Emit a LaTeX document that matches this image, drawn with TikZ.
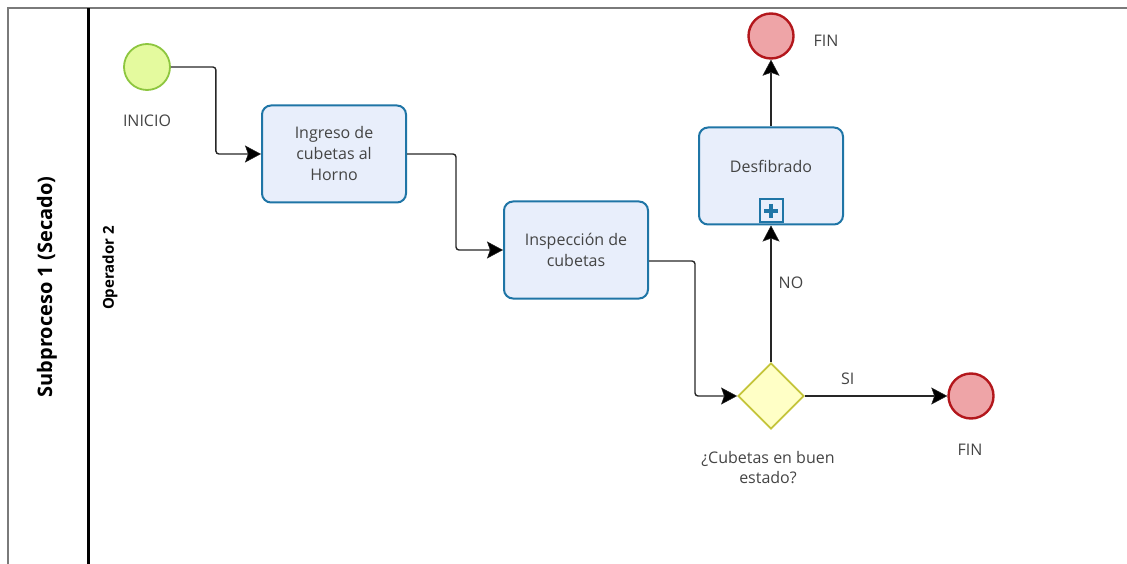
\documentclass[tikz,border=0pt]{standalone}
\usepackage{fontspec}
\setmainfont{Open Sans}
\usetikzlibrary{shapes.geometric,arrows.meta,calc}

\definecolor{taskline}{HTML}{1F75A6}
\definecolor{taskfill}{HTML}{E8EEFB}
\definecolor{startline}{HTML}{8DC63F}
\definecolor{startfill}{HTML}{E4FA9E}
\definecolor{endline}{HTML}{B3171C}
\definecolor{endfill}{HTML}{EEA4A7}
\definecolor{gateline}{HTML}{C4C43A}
\definecolor{gatefill}{HTML}{FFFFC6}
\definecolor{labeltext}{HTML}{444444}
\definecolor{frameline}{HTML}{7A7A7A}

\tikzset{
  task/.style={rectangle, rounded corners=9pt, draw=taskline, fill=taskfill,
    line width=2pt, minimum width=144pt, minimum height=97pt, align=center,
    text=labeltext, font=\fontsize{16}{21}\selectfont, inner sep=2pt},
  startev/.style={circle, draw=startline, fill=startfill, line width=1.8pt,
    minimum size=46pt, inner sep=0pt},
  endev/.style={circle, draw=endline, fill=endfill, line width=2.4pt,
    minimum size=45pt, inner sep=0pt},
  gate/.style={diamond, draw=gateline, fill=gatefill, line width=1.8pt,
    minimum width=66pt, minimum height=66pt, inner sep=0pt},
  lbl/.style={text=labeltext, font=\fontsize{16}{20}\selectfont, align=center, inner sep=1pt},
  flow/.style={draw=black!85, line width=1.4pt, rounded corners=3pt,
    -{Stealth[length=16pt,width=17pt,inset=3pt,line width=0.5pt,fill=black]}},
  plusbox/.style={rectangle, draw=taskline, fill=taskfill, line width=2pt,
    minimum size=23pt, inner sep=0pt}
}

\begin{document}
\begin{tikzpicture}[x=1pt,y=-1pt]
  \useasboundingbox (0,0) rectangle (1127,564);

  % pool frame and lane divider
  \coordinate (poolTL) at (8,8);
  \coordinate (poolTR) at (1127,8);
  \coordinate (poolBL) at (8,564);
  \coordinate (laneT) at (88,8);
  \coordinate (laneB) at (88,564);
  \draw[frameline, line width=1.6pt] (poolBL) -- (poolTL) -- (poolTR);
  \draw[black, line width=3pt] (laneT) -- (laneB);

  \node[rotate=90, font=\fontsize{20}{24}\selectfont\bfseries] (pool) at (47,287) {Subproceso 1 (Secado)};
  \node[rotate=90, font=\fontsize{15}{18}\selectfont\bfseries] (lane) at (110,268) {Operador 2};

  % events, tasks and gateway
  \node[startev] (ini) at (147,67) {};
  \node[lbl] (iniL) at (147,121) {INICIO};

  \node[task] (ing) at (334,154) {Ingreso de\\cubetas al\\Horno};
  \node[task] (insp) at (576,250) {Inspección de\\cubetas};
  \node[task] (desf) at (771,176) {};
  \node[lbl] (desfT) at (771,166) {Desfibrado};
  \node[plusbox] (plus) at (771,211) {};
  \draw[taskline, line width=3.5pt] ($(plus.center)+(-7,0)$) -- ($(plus.center)+(7,0)$);
  \draw[taskline, line width=3.5pt] ($(plus.center)+(0,-7)$) -- ($(plus.center)+(0,7)$);

  \node[gate] (gw) at (771,396) {};
  \node[lbl] (gwL) at (768,468) {¿Cubetas en buen\\estado?};

  \node[endev] (finR) at (971,396) {};
  \node[lbl] (finRL) at (970,450) {FIN};
  \node[endev] (finT) at (771,36) {};
  \node[lbl] (finTL) at (826,41) {FIN};

  % sequence flows
  \draw[flow] (ini.east) -- ++(45,0) |- (ing.west);
  \draw[flow] (ing.east) -- ++(49,0) |- (insp.west);
  \draw[flow] ([yshift=-11pt]insp.east) -- ++(46,0) |- (gw.west);
  \draw[flow] (gw.east) -- node[lbl, above=10pt, pos=0.3] (si) {SI} (finR.west);
  \draw[flow] (gw.north) -- node[lbl, right=6pt, pos=0.58] (no) {NO} (desf.south);
  \draw[flow] (desf.north) -- (finT.south);
\end{tikzpicture}
\end{document}
